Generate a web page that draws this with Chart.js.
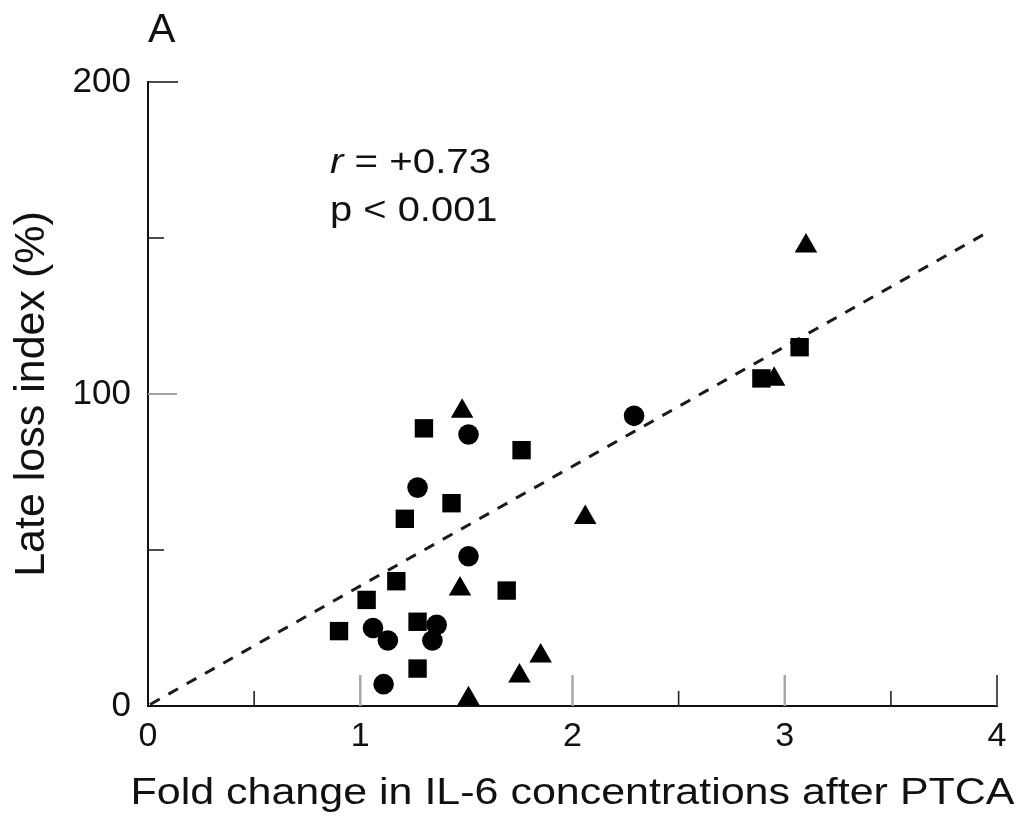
<!DOCTYPE html>
<html><head><meta charset="utf-8">
<script src="https://cdn.jsdelivr.net/npm/chart.js@4.4.0/dist/chart.umd.min.js"></script>
<style>html,body{margin:0;padding:0;background:#fff;}canvas{display:block;}</style>
</head><body>
<canvas id="c" width="1028" height="816"></canvas>
<script>
// ---- data ----
const squareX = [0.90, 1.03, 1.17, 1.21, 1.27, 1.27, 1.30, 1.43, 1.69, 1.76, 2.89, 3.07];
const squareY = [24, 34, 40, 60, 27, 12, 89, 65, 37, 82, 105, 115];
const circleX = [1.06, 1.11, 1.13, 1.27, 1.34, 1.36, 1.51, 1.51, 2.29];
const circleY = [25, 7, 21, 70, 21, 26, 48, 87, 93];
const triangleX = [1.47, 1.48, 1.51, 1.75, 1.85, 2.06, 2.95, 3.10];
const triangleY = [37.5, 94.5, 2.3, 9.6, 16, 60.4, 104.7, 147.4];
const fitX = [0.01, 3.96];
const fitY = [0.5, 152];
const xTickValues = [0, 1, 2, 3, 4];
const xTickLabels = ['0', '1', '2', '3', '4'];
const yTickValues = [0, 100, 200];
const yTickLabels = ['0', '100', '200'];
const xMinorTicks = [0.5, 1.5, 2.5, 3.5];
const yMinorTicks = [50, 150];
const xTitle = 'Fold change in IL-6 concentrations after PTCA';
const yTitle = 'Late loss index (%)';
const panelLabel = 'A';
const statR = '+0.73';
const statP = 'p < 0.001';

const FONT = '"Liberation Sans", Arial, Helvetica, sans-serif';
const pts = (xs, ys) => xs.map((x, i) => ({x, y: ys[i]}));

const overlay = {
  id: 'overlay',
  beforeDatasetsDraw(chart) {
    const ctx = chart.ctx, xs = chart.scales.x, ys = chart.scales.y;
    const y0 = ys.getPixelForValue(0), x0 = xs.getPixelForValue(0);
    const line = (x1, y1, x2, y2, c, w) => {
      ctx.beginPath(); ctx.strokeStyle = c; ctx.lineWidth = w;
      ctx.moveTo(x1, y1); ctx.lineTo(x2, y2); ctx.stroke();
    };
    ctx.save();
    [1, 2, 3].forEach(v => { const p = xs.getPixelForValue(v); line(p, y0, p, y0 - 31, '#a8a8a8', 2.5); });
    { const p = xs.getPixelForValue(4); line(p, y0, p, y0 - 31, '#555', 2); }
    xMinorTicks.forEach(v => { const p = xs.getPixelForValue(v); line(p, y0, p, y0 - 15, '#222', 1.6); });
    { const p = ys.getPixelForValue(100); line(x0, p, x0 + 29, p, '#a0a0a0', 2); }
    { const p = ys.getPixelForValue(200); line(x0, p, x0 + 30, p, '#222', 1.6); }
    yMinorTicks.forEach(v => { const p = ys.getPixelForValue(v); line(x0, p, x0 + 16, p, '#222', 1.6); });
    ctx.restore();
  },
  afterDraw(chart) {
    const ctx = chart.ctx, area = chart.chartArea;
    ctx.save();
    ctx.fillStyle = '#111';
    ctx.textBaseline = 'alphabetic';
    // panel label
    ctx.font = '41px ' + FONT;
    ctx.textAlign = 'left';
    ctx.fillText(panelLabel, area.left, 42);
    // x axis title (stretched to match)
    ctx.save();
    ctx.font = '36px ' + FONT;
    ctx.textAlign = 'center';
    ctx.translate((area.left + area.right) / 2, 804);
    ctx.scale(1.194, 1);
    ctx.fillText(xTitle, 0, 0);
    ctx.restore();
    // statistics
    ctx.save();
    ctx.translate(330, 173);
    ctx.scale(1.15, 1);
    ctx.textAlign = 'left';
    ctx.font = 'italic 35px ' + FONT;
    ctx.fillText('r', 0, 0);
    let w = ctx.measureText('r').width;
    ctx.font = '35px ' + FONT;
    ctx.fillText(' = ' + statR, w, 0);
    ctx.restore();
    ctx.save();
    ctx.translate(330, 221);
    ctx.scale(1.14, 1);
    ctx.textAlign = 'left';
    ctx.font = '35px ' + FONT;
    ctx.fillText(statP, 0, 0);
    ctx.restore();
    ctx.restore();
  }
};

new Chart(document.getElementById('c'), {
  type: 'scatter',
  data: {
    datasets: [
      {label: 'square', data: pts(squareX, squareY), pointStyle: 'rect', pointRadius: 13,
       backgroundColor: '#000', borderColor: '#000', borderWidth: 0, clip: false},
      {label: 'circle', data: pts(circleX, circleY), pointStyle: 'circle', pointRadius: 10.3,
       backgroundColor: '#000', borderColor: '#000', borderWidth: 0, clip: false},
      {label: 'triangle', data: pts(triangleX, triangleY), pointStyle: 'triangle', pointRadius: 13,
       backgroundColor: '#000', borderColor: '#000', borderWidth: 0, clip: false},
      {label: 'fit', type: 'line', data: pts(fitX, fitY), showLine: true, pointRadius: 0,
       borderColor: '#1a1a1a', borderWidth: 3, borderDash: [11, 10], borderCapStyle: 'butt',
       fill: false, clip: false}
    ]
  },
  options: {
    responsive: false,
    animation: false,
    devicePixelRatio: 1,
    events: [],
    layout: {padding: {left: 0, top: 82, right: 31, bottom: 0}},
    plugins: {legend: {display: false}, tooltip: {enabled: false}},
    scales: {
      x: {
        type: 'linear', min: 0, max: 4,
        afterBuildTicks: s => { s.ticks = xTickValues.map(v => ({value: v})); },
        afterFit: s => { s.height = 110; },
        ticks: {font: {family: FONT, size: 34}, color: '#111', padding: 10,
                maxRotation: 0, autoSkip: false, callback: (v, i) => xTickLabels[i]},
        grid: {display: false, drawTicks: false},
        border: {display: true, color: '#111', width: 2},
        title: {display: false}
      },
      y: {
        type: 'linear', min: 0, max: 200,
        afterBuildTicks: s => { s.ticks = yTickValues.map(v => ({value: v})); },
        afterFit: s => { s.width = 148; },
        ticks: {font: {family: FONT, size: 35}, color: '#111', padding: 17,
                autoSkip: false, callback: (v, i) => yTickLabels[i]},
        grid: {display: false, drawTicks: false},
        border: {display: true, color: '#111', width: 2},
        title: {display: true, text: yTitle, color: '#111',
                font: {family: FONT, size: 43}, padding: {top: 6, bottom: 0}}
      }
    }
  },
  plugins: [overlay]
});
</script>
</body></html>
